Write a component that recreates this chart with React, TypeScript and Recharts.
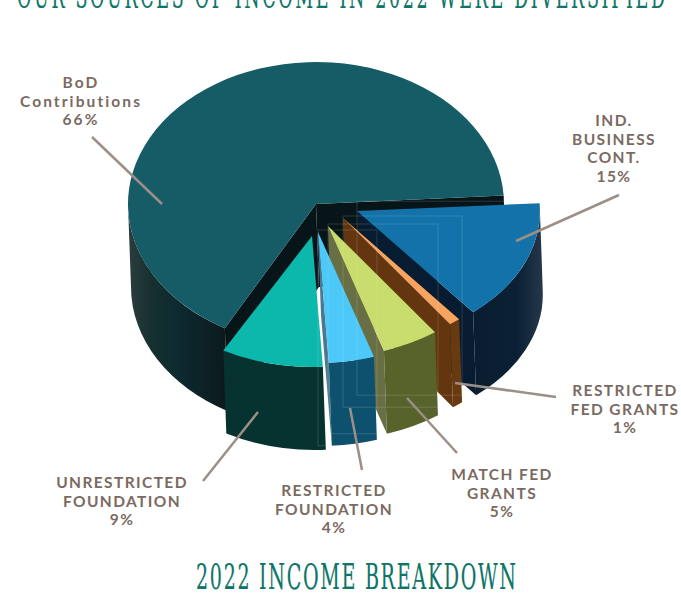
import React from "react";
import { PieChart, Pie } from "recharts";

// clockwise from the big slice, this is also the paint order back to front
const categories = [
  ["BoD", "Contributions"],
  ["IND.", "BUSINESS", "CONT."],
  ["RESTRICTED", "FED GRANTS"],
  ["MATCH FED", "GRANTS"],
  ["RESTRICTED", "FOUNDATION"],
  ["UNRESTRICTED", "FOUNDATION"],
];
const values = [66, 15, 1, 5, 4, 9];
const chartData = values.map((value, i) => ({ name: categories[i].join(" "), value }));

const DEPTH = 83;
const LEAN = 3; // the walls lean a little to the right going down

const topColors = ["#165c66", "#1272a9", "#f7a460", "#c9dc6e", "#4cc9f8", "#0cb7ab"];
const wallColors = ["url(#bodWall)", "url(#indWall)", "#69390f", "#58632c", "#0e516e", "#06332f"];
const innerColors = ["#071518", "#071c30", "#643610", "#686f44", "#4a7890", "#06332f"];
const explode = [
  { dx: 0, dy: 0, sx: 1, tilt: 0.755 },
  { dx: 41, dy: 7, sx: 0.973, tilt: 0.716 },
  { dx: 27, dy: 14, sx: 0.973, tilt: 0.716 },
  { dx: 12, dy: 22, sx: 0.973, tilt: 0.716 },
  { dx: 2, dy: 28, sx: 0.973, tilt: 0.716 },
  { dx: -4, dy: 32, sx: 0.973, tilt: 0.716 },
];

// text centre x, first line y, then the leader line
const labelSpots = [
  { x: 81, y: 82, line: [92, 137, 162, 204] },
  { x: 614, y: 120, line: [619, 195, 516, 241] },
  { x: 625, y: 390, line: [556, 397, 455, 383] },
  { x: 502, y: 474, line: [457, 453, 407, 398] },
  { x: 334, y: 490, line: [362, 470, 350, 408] },
  { x: 122, y: 482, line: [203, 481, 258, 412] },
];

const slab = "'DejaVu Serif', serif";

function sliceGeometry(props: any) {
  const { cx, cy, outerRadius, startAngle, endAngle, index } = props;
  const e = explode[index];
  const ax = cx + e.dx;
  const ay = cy + e.dy;
  const rx = outerRadius * e.sx;
  const ry = rx * e.tilt;
  const hi = Math.max(startAngle, endAngle);
  const lo = Math.min(startAngle, endAngle);
  const at = (deg: number) => [
    ax + rx * Math.cos((deg * Math.PI) / 180),
    ay - ry * Math.sin((deg * Math.PI) / 180),
  ];
  return { ax, ay, rx, ry, hi, lo, at };
}

function Slice3D(props: any) {
  const { index } = props;
  const { ax, ay, rx, ry, hi, lo, at } = sliceGeometry(props);

  const [sx, sy] = at(hi);
  const [ex, ey] = at(lo);
  const big = hi - lo > 180 ? 1 : 0;
  const top = `M${ax},${ay} L${sx},${sy} A${rx},${ry} 0 ${big} 1 ${ex},${ey} Z`;

  const inner = (deg: number) => {
    const [px, py] = at(deg);
    return `M${ax},${ay} L${px},${py} L${px + LEAN},${py + DEPTH} L${ax + LEAN},${ay + DEPTH} Z`;
  };
  const sinOf = (deg: number) => Math.sin((deg * Math.PI) / 180);

  // outer wall only where the rim faces the viewer
  const outer: string[] = [];
  [[-180, 0], [180, 360]].forEach(([wLo, wHi]) => {
    const a = Math.min(hi, wHi);
    const b = Math.max(lo, wLo);
    if (a <= b) return;
    const [p1x, p1y] = at(a);
    const [p2x, p2y] = at(b);
    outer.push(
      `M${p1x},${p1y} A${rx},${ry} 0 0 1 ${p2x},${p2y} L${p2x + LEAN},${p2y + DEPTH} A${rx},${ry} 0 0 0 ${p1x + LEAN},${p1y + DEPTH} Z`
    );
  });

  return (
    <g>
      {index === 0 && (
        <defs>
          <linearGradient id="bodWall" gradientUnits="userSpaceOnUse" x1={128} y1={0} x2={325} y2={0}>
            <stop offset="0" stopColor="#2c3d3f" />
            <stop offset="0.12" stopColor="#16302f" />
            <stop offset="0.25" stopColor="#0d2a30" />
            <stop offset="0.5" stopColor="#0c1a1c" />
            <stop offset="1" stopColor="#0a1517" />
          </linearGradient>
          <linearGradient id="indWall" gradientUnits="userSpaceOnUse" x1={470} y1={0} x2={542} y2={0}>
            <stop offset="0" stopColor="#0a1d30" />
            <stop offset="0.65" stopColor="#0b2034" />
            <stop offset="1" stopColor="#24364a" />
          </linearGradient>
        </defs>
      )}
      {sinOf(hi + 90) < 0 && <path d={inner(hi)} fill={innerColors[index]} />}
      {sinOf(lo - 90) < 0 && <path d={inner(lo)} fill={innerColors[index]} />}
      {outer.map((d, i) => (
        <path key={i} d={d} fill={wallColors[index]} />
      ))}
      <path d={top} fill={topColors[index]} />
    </g>
  );
}

// faint bounding boxes that show through the small slices in the original
function SliceBox(props: any) {
  const { index } = props;
  if (index === 0 || index === 5) return <g />;
  const { ax, ay, hi, lo, at } = sliceGeometry(props);
  const [sx, sy] = at(hi);
  const [ex, ey] = at(lo);
  const x2 = Math.max(sx, ex) + LEAN;
  const y1 = Math.min(ay, sy, ey) - 2;
  const y2 = Math.max(sy, ey) + DEPTH;
  return <rect x={ax} y={y1} width={x2 - ax} height={y2 - y1} fill="none" stroke="#ffffff" strokeOpacity={0.14} />;
}

function SliceLabel(props: any) {
  const { index } = props;
  const spot = labelSpots[index];
  const lines = [...categories[index], `${values[index]}%`];
  const [x1, y1, x2, y2] = spot.line;
  return (
    <g>
      <line x1={x1} y1={y1} x2={x2} y2={y2} stroke="#9b8f88" strokeWidth={2.5} />
      {lines.map((t, i) => (
        <text
          key={i}
          x={spot.x}
          y={spot.y + i * 18.7}
          textAnchor="middle"
          dominantBaseline="central"
          fontFamily="Lato, sans-serif"
          fontWeight={700}
          fontSize={15.5}
          letterSpacing={index === 0 ? 2.1 : 1.4}
          fill="#7a6a62"
        >
          {t}
        </text>
      ))}
    </g>
  );
}

function SlabTitle({ x, y, width, size, squeeze, children }: any) {
  return (
    <text
      transform={`translate(${x},${y}) scale(${squeeze},1)`}
      fontFamily={slab}
      fontSize={size}
      fill="#0d7468"
      stroke="#0d7468"
      strokeWidth={0.2}
      textLength={width / squeeze}
      lengthAdjust="spacing"
    >
      {children}
    </text>
  );
}

export default function App() {
  return (
    <div style={{ position: "absolute", left: 0, top: 0, width: 681, height: 594, background: "#fff" }}>
      <PieChart width={681} height={594} margin={{ top: 0, right: 0, bottom: 0, left: 0 }}>
        <SlabTitle x={17} y={8} width={648} size={33} squeeze={0.53}>
          OUR SOURCES OF INCOME IN 2022 WERE DIVERSIFIED
        </SlabTitle>
        <Pie
          data={chartData}
          dataKey="value"
          nameKey="name"
          cx={316}
          cy={204}
          innerRadius={0}
          outerRadius={188}
          startAngle={241}
          endAngle={-119}
          stroke="none"
          shape={Slice3D}
          label={SliceLabel}
          labelLine={false}
          isAnimationActive={false}
        />
        <Pie
          data={chartData}
          dataKey="value"
          nameKey="name"
          cx={316}
          cy={204}
          innerRadius={0}
          outerRadius={188}
          startAngle={241}
          endAngle={-119}
          stroke="none"
          shape={SliceBox}
          isAnimationActive={false}
        />
        <SlabTitle x={196} y={589} width={320} size={36} squeeze={0.53}>
          2022 INCOME BREAKDOWN
        </SlabTitle>
      </PieChart>
    </div>
  );
}
